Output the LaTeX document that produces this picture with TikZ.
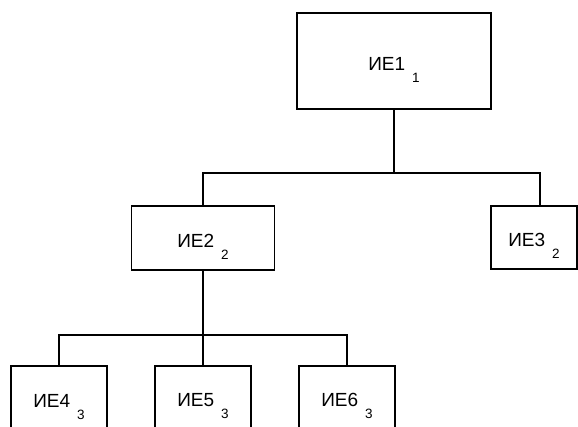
\documentclass[tikz,border=0pt]{standalone}
\usepackage{fontspec}
\setmainfont{Liberation Sans}
\usetikzlibrary{positioning}

\newcommand{\ielab}[2]{\rule{0pt}{18pt}ИЕ#1\hspace{7pt}\smash{\raisebox{-12pt}{\fontsize{13.5}{13.5}\selectfont #2}}}

\begin{document}
\begin{tikzpicture}[x=1pt,y=-1pt,line width=1.8pt,
    ie/.style={shape=rectangle,draw=black,inner sep=0pt,font=\fontsize{19}{19}\selectfont}]
                \useasboundingbox (0,0) rectangle (578,426);
                \clip (0,0) rectangle (578,426);
                \node[ie,minimum width=194pt,minimum height=96pt](1)at(394, 61){\ielab{1}{1}};
                \node[ie,minimum width=143pt,minimum height=64pt](2)at(203, 238){\ielab{2}{2}};
                \node[ie,minimum width=86pt,minimum height=63pt](3)at(534, 237.5){\ielab{3}{2}};
                \node[ie,minimum width=96pt,minimum height=64pt](4)at(59, 398){\ielab{4}{3}};
                \node[ie,minimum width=96pt,minimum height=64pt](5)at(203, 398){\ielab{5}{3}};
                \node[ie,minimum width=96pt,minimum height=64pt](6)at(347, 398){\ielab{6}{3}};

                \coordinate (j1) at (394, 173);
                \coordinate (j2) at (203, 335);
                \draw (1) -- (j1);
                \draw (j1) -| (2);
                \draw (j1) -| ([xshift=6pt]3.north);
                \draw (2) -- (j2);
                \draw (j2) -| (4);
                \draw (j2) -- (5);
                \draw (j2) -| (6);
            \end{tikzpicture}
\end{document}
